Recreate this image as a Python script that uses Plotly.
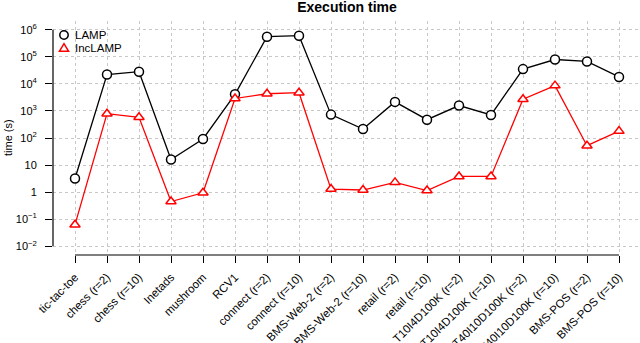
import plotly.graph_objects as go

categories = ["tic-tac-toe", "chess (r=2)", "chess (r=10)", "Inetads", "mushroom", "RCV1",
              "connect (r=2)", "connect (r=10)", "BMS-Web-2 (r=2)", "BMS-Web-2 (r=10)",
              "retail (r=2)", "retail (r=10)", "T10I4D100K (r=2)", "T10I4D100K (r=10)",
              "T40I10D100K (r=2)", "T40I10D100K (r=10)", "BMS-POS (r=2)", "BMS-POS (r=10)"]

lamp = [3.2, 22000, 28000, 16, 92, 4100, 550000, 600000, 730, 215,
        2150, 475, 1580, 710, 35000, 79000, 67000, 18000]

inclamp = [0.063, 790, 580, 0.45, 0.95, 2880, 4300, 4700, 1.3, 1.2,
           2.3, 1.15, 3.8, 3.8, 2700, 8600, 52, 180]

series_names = ["LAMP", "IncLAMP"]

ytick_vals = [1e-2, 1e-1, 1, 10, 1e2, 1e3, 1e4, 1e5, 1e6]
ytick_text = ["10<sup>\u22122</sup>", "10<sup>\u22121</sup>", "1", "10", "10<sup>2</sup>",
              "10<sup>3</sup>", "10<sup>4</sup>", "10<sup>5</sup>", "10<sup>6</sup>"]

FONT = "Liberation Sans, Arial, Helvetica, sans-serif"
W, H = 640, 343
ML, MR, MT, MB = 53, 0, 21, 88
PW, PH = W - ML - MR, H - MT - MB


def px_x(px):
    return (px - ML) / PW


def px_y(py):
    return (H - MB - py) / PH


fig = go.Figure()

fig.add_trace(go.Scatter(x=categories, y=lamp, mode="lines+markers", name=series_names[0],
                         line=dict(color="black", width=1.3),
                         marker=dict(symbol="circle", size=9, color="white",
                                     line=dict(color="black", width=1.5)),
                         showlegend=False))
fig.add_trace(go.Scatter(x=categories, y=inclamp, mode="lines+markers", name=series_names[1],
                         line=dict(color="red", width=1.3),
                         marker=dict(symbol="triangle-up", size=9, color="white",
                                     line=dict(color="red", width=1.5)),
                         showlegend=False))

n = len(categories)
fig.update_xaxes(type="category", categoryorder="array", categoryarray=categories,
                 range=[-0.6875, -0.6875 + PW / 32.0],
                 showgrid=True, gridcolor="#c8c8c8", griddash="dot", gridwidth=1,
                 zeroline=False, showline=False,
                 ticks="outside", ticklen=7, tickwidth=1, tickcolor="black",
                 tickangle=-45, ticklabelstandoff=3,
                 tickfont=dict(family=FONT, size=11.5, color="black"),
                 automargin=False)
fig.update_yaxes(type="log", range=[-2.32, 6.32],
                 tickvals=ytick_vals, ticktext=ytick_text,
                 showgrid=True, gridcolor="#c8c8c8", griddash="dot", gridwidth=1,
                 zeroline=False, showline=False,
                 ticks="outside", ticklen=7, tickwidth=1, tickcolor="black",
                 ticklabelstandoff=6,
                 tickfont=dict(family=FONT, size=11, color="black"),
                 automargin=False)

# R-style detached axis lines spanning first to last tick
fig.add_shape(type="line", xref="paper", yref="y", x0=0, x1=0,
              y0=ytick_vals[0], y1=ytick_vals[-1], line=dict(color="black", width=1.2))
fig.add_shape(type="line", xref="x", yref="paper", x0=0, x1=n - 1, y0=0, y1=0,
              line=dict(color="black", width=1.2))

# legend (symbols only, as in the reference)
fig.add_shape(type="circle", xref="paper", yref="paper",
              xsizemode="pixel", ysizemode="pixel",
              xanchor=px_x(64), yanchor=px_y(35), x0=-4.2, x1=4.2, y0=-4.2, y1=4.2,
              line=dict(color="black", width=1.5))
fig.add_shape(type="path", xref="paper", yref="paper",
              xsizemode="pixel", ysizemode="pixel",
              xanchor=px_x(64), yanchor=px_y(48),
              path="M -4.6,-3.3 L 4.6,-3.3 L 0,4.4 Z",
              line=dict(color="red", width=1.5))
fig.add_annotation(text=series_names[0], xref="paper", yref="paper", x=px_x(73), y=px_y(35),
                   xanchor="left", yanchor="middle", showarrow=False,
                   font=dict(family=FONT, size=11.5, color="black"))
fig.add_annotation(text=series_names[1], xref="paper", yref="paper", x=px_x(73), y=px_y(48),
                   xanchor="left", yanchor="middle", showarrow=False,
                   font=dict(family=FONT, size=11.5, color="black"))

fig.add_annotation(text="time (s)", xref="paper", yref="paper", x=px_x(8),
                   y=0.5, textangle=-90, showarrow=False, xanchor="center", yanchor="middle",
                   font=dict(family=FONT, size=11, color="black"))

fig.update_layout(
    width=W, height=H,
    margin=dict(l=ML, r=MR, t=MT, b=MB),
    paper_bgcolor="white", plot_bgcolor="white",
    title=dict(text="<b>Execution time</b>", x=347 / W, xanchor="center",
               y=1 - 7 / H, yanchor="middle", yref="container",
               font=dict(family=FONT, size=14, color="black")),
    showlegend=False,
)

fig.write_html("out.html", config={"displayModeBar": False},
               post_script="document.body.style.margin='0px';")
